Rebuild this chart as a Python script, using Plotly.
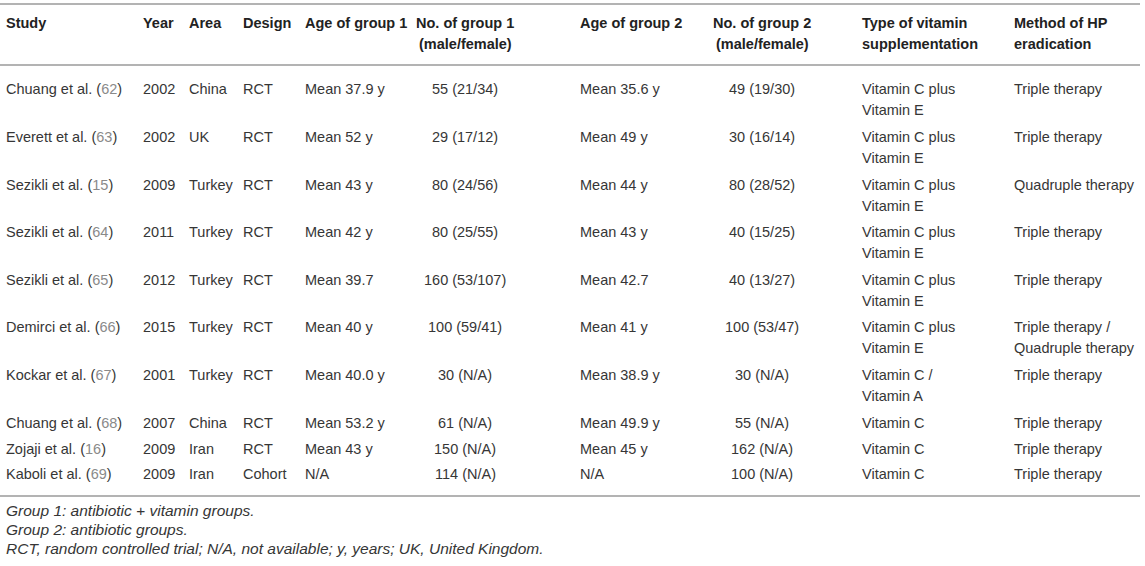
import plotly.graph_objects as go

# ---------------- data ----------------
headers = ["Study", "Year", "Area", "Design", "Age of group 1",
           "No. of group 1\n(male/female)", "Age of group 2",
           "No. of group 2\n(male/female)", "Type of vitamin\nsupplementation",
           "Method of HP\neradication"]

study_names = ["Chuang et al.", "Everett et al.", "Sezikli et al.", "Sezikli et al.",
               "Sezikli et al.", "Demirci et al.", "Kockar et al.", "Chuang et al.",
               "Zojaji et al.", "Kaboli et al."]
study_refs = ["62", "63", "15", "64", "65", "66", "67", "68", "16", "69"]
years = ["2002", "2002", "2009", "2011", "2012", "2015", "2001", "2007", "2009", "2009"]
areas = ["China", "UK", "Turkey", "Turkey", "Turkey", "Turkey", "Turkey", "China", "Iran", "Iran"]
designs = ["RCT", "RCT", "RCT", "RCT", "RCT", "RCT", "RCT", "RCT", "RCT", "Cohort"]
age_group1 = ["Mean 37.9 y", "Mean 52 y", "Mean 43 y", "Mean 42 y", "Mean 39.7",
              "Mean 40 y", "Mean 40.0 y", "Mean 53.2 y", "Mean 43 y", "N/A"]
no_group1 = ["55 (21/34)", "29 (17/12)", "80 (24/56)", "80 (25/55)", "160 (53/107)",
             "100 (59/41)", "30 (N/A)", "61 (N/A)", "150 (N/A)", "114 (N/A)"]
age_group2 = ["Mean 35.6 y", "Mean 49 y", "Mean 44 y", "Mean 43 y", "Mean 42.7",
              "Mean 41 y", "Mean 38.9 y", "Mean 49.9 y", "Mean 45 y", "N/A"]
no_group2 = ["49 (19/30)", "30 (16/14)", "80 (28/52)", "40 (15/25)", "40 (13/27)",
             "100 (53/47)", "30 (N/A)", "55 (N/A)", "162 (N/A)", "100 (N/A)"]
vitamin_type = ["Vitamin C plus\nVitamin E"] * 6 + ["Vitamin C /\nVitamin A",
                "Vitamin C", "Vitamin C", "Vitamin C"]
hp_method = ["Triple therapy", "Triple therapy", "Quadruple therapy", "Triple therapy",
             "Triple therapy", "Triple therapy /\nQuadruple therapy", "Triple therapy",
             "Triple therapy", "Triple therapy", "Triple therapy"]

footnotes = ["Group 1: antibiotic + vitamin groups.",
             "Group 2: antibiotic groups.",
             "RCT, random controlled trial; N/A, not available; y, years; UK, United Kingdom."]

# ---------------- layout constants ----------------
W, H = 1145, 566
FONT = "Liberation Sans, Arial, Helvetica, sans-serif"
TXT = "#363636"
REF = "#8a8a8a"
LINE = "#b3b3b3"
FS = 14.5
FS_FOOT = 15.5
LINE_GAP = 21

col_x = [4, 141, 187, 241, 303, 465, 578, 762, 860, 1012]
col_anchor = ["left", "left", "left", "left", "left", "center", "left", "center", "left", "left"]

header_y = 23
row_y = [89, 137, 185, 232, 280, 327, 375, 423, 449, 474]
rule_y = [4, 65, 496]
foot_y = [510, 529, 548]

study_cells = [f"{n} (<span style='color:{REF}'>{r}</span>)" for n, r in zip(study_names, study_refs)]
columns = [study_cells, years, areas, designs, age_group1, no_group1,
           age_group2, no_group2, vitamin_type, hp_method]

fig = go.Figure()
fig.add_trace(go.Scatter(x=[0, W], y=[0, H], mode="markers",
                         marker=dict(opacity=0), hoverinfo="skip", showlegend=False))

annotations = []

def add_cell(text, x, y, anchor, bold=False, italic=False, color=TXT, size=FS):
    for k, line in enumerate(text.split("\n")):
        t = line
        if bold:
            t = f"<b>{t}</b>"
        if italic:
            t = f"<i>{t}</i>"
        annotations.append(dict(
            x=x, y=y + k * LINE_GAP, xref="x", yref="y", text=t,
            showarrow=False, xanchor=anchor, yanchor="middle",
            align=anchor if anchor != "center" else "center",
            font=dict(family=FONT, size=size, color=color)))

for c, h in enumerate(headers):
    add_cell(h, col_x[c], header_y, col_anchor[c], bold=True, color="#222222")

for c, col in enumerate(columns):
    for r, cell in enumerate(col):
        add_cell(cell, col_x[c], row_y[r], col_anchor[c])

for k, f in enumerate(footnotes):
    add_cell(f, 4, foot_y[k], "left", italic=True, size=FS_FOOT)

shapes = [dict(type="line", xref="x", yref="y", x0=0, x1=1140, y0=y, y1=y,
               line=dict(color=LINE, width=2)) for y in rule_y]

fig.update_layout(
    width=W, height=H, margin=dict(l=0, r=0, t=0, b=0),
    paper_bgcolor="white", plot_bgcolor="white",
    xaxis=dict(range=[0, W], visible=False, fixedrange=True),
    yaxis=dict(range=[H, 0], visible=False, fixedrange=True),
    annotations=annotations, shapes=shapes, showlegend=False,
)

fig.write_html("out.html", config={"displayModeBar": False},
               post_script="document.body.style.margin='0';document.body.style.overflow='hidden';")
